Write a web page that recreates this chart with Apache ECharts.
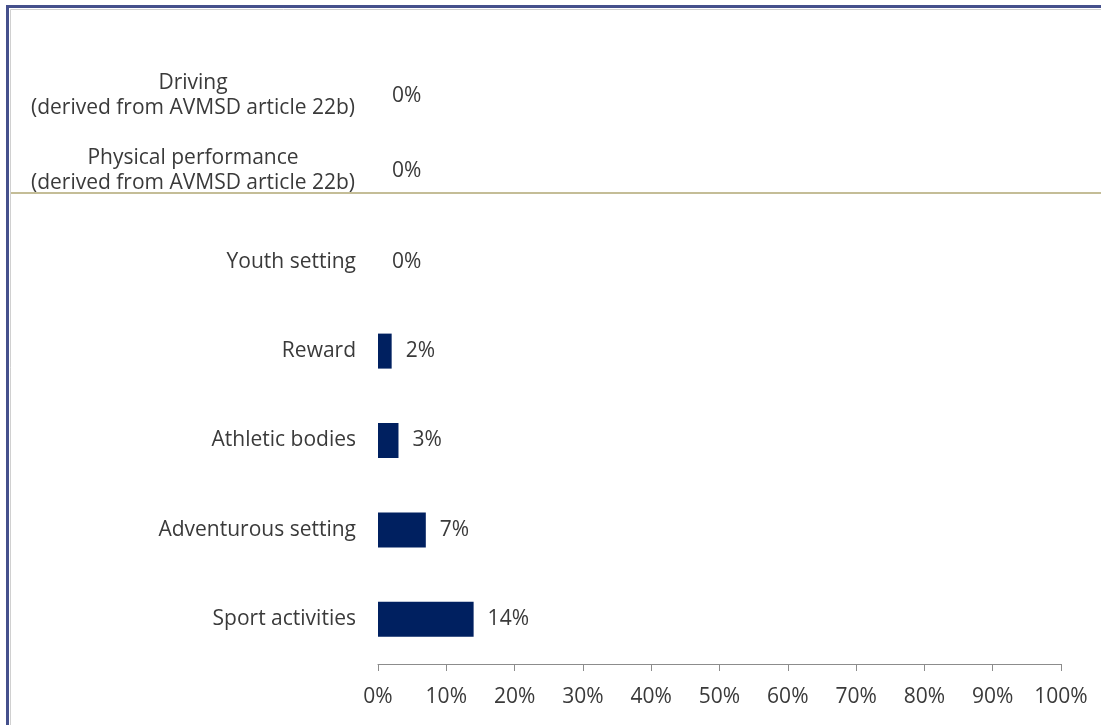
<!DOCTYPE html>
<html>
<head>
<meta charset="utf-8">
<script src="https://cdn.jsdelivr.net/npm/echarts@6/dist/echarts.min.js"></script>
<style>
html,body{margin:0;padding:0;background:#fff;}
#chart{width:1101px;height:725px;}
</style>
</head>
<body>
<div id="chart"></div>
<script>
// Data
var topCategories = ['Driving\n(derived from AVMSD article 22b)', 'Physical performance\n(derived from AVMSD article 22b)'];
var topValues = [0, 0];
var bottomCategories = ['Youth setting', 'Reward', 'Athletic bodies', 'Adventurous setting', 'Sport activities'];
var bottomValues = [0, 2, 3, 7, 14];
var xTicks = [0, 10, 20, 30, 40, 50, 60, 70, 80, 90, 100];

var FONT = 'Open Sans';
var FS = 21;
var TXT = '#3a3a3a';
var BAR = '#002060';

var chart = echarts.init(document.getElementById('chart'));
var labelCfg = {
  show: true, position: 'right', distance: 14,
  formatter: function (p) { return p.value + '%'; },
  color: TXT, fontFamily: FONT, fontSize: FS
};
chart.setOption({
  animation: false,
  backgroundColor: '#fff',
  grid: [
    { left: 378, right: 40, top: 58.5, height: 150 },
    { left: 378, right: 40, top: 217, height: 447 }
  ],
  xAxis: [
    { gridIndex: 0, type: 'value', min: 0, max: 100, interval: 10, show: false, splitLine: { show: false } },
    { gridIndex: 1, type: 'value', min: 0, max: 100, interval: 10,
      axisLine: { show: true, lineStyle: { color: '#8c8c8c', width: 1 } },
      axisTick: { show: true, length: 7, lineStyle: { color: '#8c8c8c' } },
      splitLine: { show: false },
      axisLabel: { margin: 23, color: TXT, fontFamily: FONT, fontSize: FS,
        formatter: function (v) { return xTicks.indexOf(v) >= 0 ? v + '%' : ''; } } }
  ],
  yAxis: [
    { gridIndex: 0, type: 'category', inverse: true, data: topCategories,
      axisLine: { show: false }, axisTick: { show: false },
      axisLabel: { align: 'center', margin: 185, color: TXT, fontFamily: FONT, fontSize: FS, lineHeight: 25 } },
    { gridIndex: 1, type: 'category', inverse: true, data: bottomCategories,
      axisLine: { show: false }, axisTick: { show: false },
      axisLabel: { margin: 22, color: TXT, fontFamily: FONT, fontSize: FS } }
  ],
  series: [
    { type: 'bar', xAxisIndex: 0, yAxisIndex: 0, data: topValues, barWidth: 35,
      itemStyle: { color: BAR }, label: labelCfg },
    { type: 'bar', xAxisIndex: 1, yAxisIndex: 1, data: bottomValues, barWidth: 35,
      itemStyle: { color: BAR }, label: labelCfg }
  ],
  graphic: [
    { type: 'rect', silent: true, shape: { x: 7.5, y: 6.5, width: 1200, height: 1000 },
      style: { fill: null, stroke: '#45508c', lineWidth: 3 } },
    { type: 'rect', silent: true, shape: { x: 10.5, y: 9.5, width: 1200, height: 1000 },
      style: { fill: null, stroke: '#d0d0d0', lineWidth: 1 } },
    { type: 'line', silent: true, shape: { x1: 11, y1: 193, x2: 1101, y2: 193 },
      style: { stroke: '#c4bd97', lineWidth: 2 } }
  ]
});
</script>
</body>
</html>
